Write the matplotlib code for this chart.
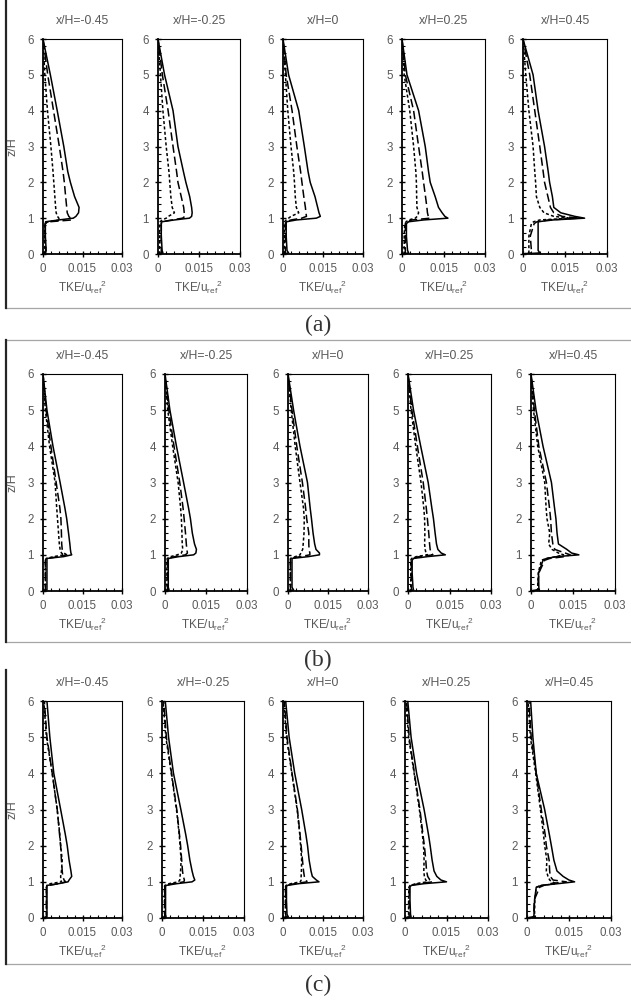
import numpy as np
import matplotlib
matplotlib.use('Agg')
import matplotlib.pyplot as plt
from matplotlib.lines import Line2D
from matplotlib.ticker import MultipleLocator, FixedLocator, FixedFormatter

plt.rcParams['font.family'] = ['Liberation Sans', 'DejaVu Sans']
plt.rcParams['mathtext.default'] = 'regular'

# stations and heights (z/H)
x_pos = ['x/H=-0.45', 'x/H=-0.25', 'x/H=0', 'x/H=0.25', 'x/H=0.45']
z = [0, 0.03, 0.1, 0.5, 0.85, 0.9, 0.95, 1.0, 1.05, 1.15, 1.3, 1.6, 2.0, 2.3, 3.0, 4.0, 5.0, 6.0]

# TKE/uref^2, in units of 1e-3, one row per station
a_solid = [
    [0.3, 1.0, 1.2, 0.9, 0.9, 1.0, 6.0, 11.5, 12.5, 13.5, 13.7, 12.0, 10.4, 9.4, 7.9, 5.4, 2.8, 0.0],
    [0.3, 1.8, 1.5, 1.2, 1.2, 1.4, 6.0, 11.5, 12.3, 12.5, 12.3, 11.6, 10.2, 9.3, 7.3, 5.5, 2.4, 0.0],
    [0.3, 2.1, 1.5, 1.2, 1.2, 1.3, 5.0, 12.5, 14.0, 13.5, 13.0, 12.0, 10.2, 9.4, 8.0, 5.9, 2.1, 0.0],
    [0.3, 2.4, 2.0, 1.6, 1.6, 2.4, 7.8, 16.6, 15.5, 14.5, 13.2, 12.0, 10.2, 9.6, 8.4, 6.0, 1.8, 0.0],
    [0.0, 6.0, 5.4, 5.4, 5.4, 5.4, 10.7, 22.0, 18.5, 13.5, 11.0, 10.5, 9.5, 9.0, 7.7, 5.4, 3.6, 0.0],
]
a_long = [
    [0.3, 0.8, 1.0, 0.8, 0.8, 2.5, 11.0, 10.5, 9.8, 9.2, 9.0, 8.6, 8.1, 7.6, 6.2, 4.0, 1.8, 0.0],
    [0.3, 1.2, 1.2, 1.2, 1.2, 1.5, 5.0, 9.0, 9.8, 9.6, 9.4, 8.5, 7.3, 6.8, 5.5, 3.7, 1.6, 0.0],
    [0.3, 0.9, 0.9, 0.9, 0.9, 1.0, 3.0, 7.0, 8.8, 8.6, 8.4, 7.8, 7.1, 6.6, 5.2, 3.4, 1.2, 0.0],
    [0.3, 1.2, 1.2, 1.2, 1.2, 1.8, 3.6, 10.2, 9.5, 9.2, 9.0, 8.5, 7.8, 7.3, 6.0, 4.2, 1.2, 0.0],
    [0.0, 3.0, 3.0, 2.6, 4.0, 5.0, 9.0, 20.0, 14.0, 11.0, 9.8, 8.9, 7.7, 7.2, 6.0, 4.2, 2.4, 0.0],
]
a_short = [
    [0.3, 0.6, 0.7, 0.6, 0.6, 2.0, 6.5, 6.0, 5.5, 5.0, 4.8, 4.5, 4.1, 3.8, 3.0, 1.7, 0.7, 0.0],
    [0.3, 0.6, 0.6, 0.6, 0.6, 0.8, 1.5, 3.0, 3.8, 6.0, 5.2, 4.7, 4.3, 4.0, 3.0, 1.8, 0.9, 0.0],
    [0.3, 0.5, 0.5, 0.5, 0.5, 0.6, 1.2, 2.1, 3.0, 5.9, 5.0, 4.6, 4.3, 4.0, 3.0, 1.8, 0.9, 0.0],
    [0.3, 0.8, 0.8, 0.8, 1.0, 1.5, 2.4, 4.8, 5.5, 6.0, 5.4, 5.3, 5.2, 5.0, 4.2, 2.8, 0.8, 0.0],
    [0.0, 2.1, 2.1, 2.1, 3.0, 3.8, 6.0, 16.7, 11.0, 7.5, 6.0, 4.8, 4.5, 4.2, 3.6, 2.1, 1.0, 0.0],
]

b_solid = [
    [0.2, 1.5, 1.5, 1.5, 1.5, 1.5, 7.8, 10.9, 10.6, 10.4, 10.2, 9.7, 9.0, 8.3, 6.5, 3.8, 1.5, 0.0],
    [0.2, 1.5, 1.2, 1.2, 1.2, 1.3, 5.0, 10.5, 11.3, 11.5, 10.8, 10.0, 9.3, 8.6, 6.8, 4.2, 1.8, 0.0],
    [0.2, 2.1, 1.5, 1.5, 1.5, 1.5, 7.6, 11.8, 11.8, 10.5, 10.0, 9.4, 8.8, 8.3, 7.3, 4.5, 2.1, 0.0],
    [0.2, 2.0, 1.8, 1.5, 1.5, 2.0, 7.0, 13.5, 12.0, 10.8, 10.3, 9.8, 9.2, 8.6, 7.3, 4.6, 2.0, 0.0],
    [0.0, 2.8, 2.8, 2.7, 4.3, 5.5, 9.1, 17.1, 14.5, 12.8, 9.8, 9.3, 8.9, 8.4, 7.3, 4.3, 1.8, 0.0],
]
b_long = [
    [0.2, 0.9, 0.9, 0.9, 0.9, 1.5, 6.0, 9.0, 8.0, 7.3, 7.1, 7.0, 6.8, 6.4, 5.0, 3.0, 1.2, 0.0],
    [0.2, 1.0, 0.9, 0.9, 0.9, 1.0, 3.5, 7.5, 8.2, 8.0, 7.8, 7.5, 7.0, 6.6, 5.4, 3.3, 1.4, 0.0],
    [0.2, 1.0, 0.9, 0.9, 0.9, 0.9, 4.5, 8.2, 8.2, 7.9, 7.8, 7.8, 7.0, 6.6, 5.4, 3.3, 1.5, 0.0],
    [0.2, 1.3, 1.2, 1.2, 1.2, 1.5, 4.0, 9.0, 8.5, 8.0, 7.8, 7.5, 7.0, 6.6, 5.5, 3.4, 1.4, 0.0],
    [0.0, 2.4, 2.4, 2.8, 4.9, 6.7, 12.0, 14.0, 12.2, 8.5, 7.8, 7.3, 7.0, 6.6, 5.5, 2.8, 1.2, 0.0],
]
b_short = [
    [0.2, 0.9, 0.9, 0.9, 0.9, 1.2, 4.0, 8.0, 7.0, 6.5, 6.2, 5.9, 5.5, 5.2, 4.6, 2.5, 0.9, 0.0],
    [0.2, 0.8, 0.7, 0.7, 0.7, 0.8, 2.0, 4.5, 6.0, 6.5, 6.3, 6.2, 6.0, 5.7, 4.8, 2.8, 1.0, 0.0],
    [0.2, 0.9, 0.9, 0.9, 0.9, 0.9, 2.7, 4.5, 4.8, 5.5, 5.7, 6.0, 6.1, 5.8, 4.5, 2.7, 1.2, 0.0],
    [0.2, 1.0, 1.0, 1.0, 1.0, 1.3, 3.0, 7.0, 6.5, 6.2, 6.0, 6.1, 6.0, 5.7, 4.7, 2.8, 1.1, 0.0],
    [0.0, 2.4, 2.4, 2.6, 3.7, 5.5, 9.0, 11.6, 9.8, 7.5, 6.3, 6.7, 5.7, 5.4, 4.9, 2.4, 0.9, 0.0],
]

c_solid = [
    [0.2, 1.5, 1.5, 1.5, 1.5, 1.5, 6.0, 9.5, 9.9, 10.9, 10.6, 9.9, 9.2, 8.5, 6.7, 4.1, 2.6, 1.5],
    [0.2, 1.5, 1.3, 1.3, 1.3, 1.4, 5.5, 11.0, 12.0, 11.5, 11.0, 10.2, 9.4, 8.7, 6.9, 4.2, 2.4, 1.2],
    [0.2, 2.0, 1.5, 1.3, 1.3, 1.5, 6.0, 13.5, 12.5, 11.0, 10.5, 9.8, 9.2, 8.6, 7.0, 4.4, 2.3, 1.0],
    [0.2, 2.2, 2.0, 1.8, 1.8, 2.2, 7.0, 15.0, 13.0, 11.5, 10.5, 9.8, 9.1, 8.5, 6.9, 4.2, 2.2, 1.0],
    [0.0, 2.5, 2.5, 2.7, 3.3, 5.1, 11.1, 17.0, 15.0, 12.9, 10.7, 9.6, 8.7, 8.0, 6.3, 3.3, 2.1, 1.3],
]
c_long = [
    [0.2, 1.3, 1.3, 1.3, 1.3, 2.2, 6.0, 8.6, 8.0, 7.5, 7.3, 7.0, 6.7, 6.3, 5.4, 3.5, 1.5, 0.5],
    [0.2, 1.0, 1.0, 1.0, 1.0, 1.2, 4.0, 8.0, 8.2, 7.8, 7.5, 7.2, 6.8, 6.4, 5.4, 3.5, 1.6, 0.6],
    [0.2, 1.2, 1.0, 1.0, 1.0, 1.2, 4.5, 9.0, 8.7, 8.0, 7.7, 7.3, 6.8, 6.4, 5.4, 3.4, 1.5, 0.5],
    [0.2, 1.5, 1.5, 1.5, 1.6, 2.0, 5.0, 10.0, 9.0, 8.2, 7.8, 7.5, 7.0, 6.5, 5.4, 3.4, 1.5, 0.6],
    [0.0, 2.4, 2.4, 2.6, 4.5, 6.0, 8.1, 14.0, 9.3, 8.3, 8.1, 7.9, 6.9, 6.5, 5.1, 3.3, 1.5, 0.7],
]
c_short = [
    [0.2, 1.3, 1.3, 1.3, 1.3, 1.5, 2.8, 7.0, 6.8, 6.7, 7.0, 7.3, 6.7, 6.4, 5.4, 3.5, 1.3, 0.3],
    [0.2, 0.9, 0.9, 0.9, 0.9, 1.0, 2.5, 6.0, 6.5, 6.6, 6.8, 7.0, 6.6, 6.3, 5.3, 3.4, 1.4, 0.4],
    [0.2, 1.0, 0.9, 0.9, 0.9, 1.1, 3.0, 6.5, 6.8, 6.8, 6.9, 7.0, 6.6, 6.3, 5.3, 3.3, 1.3, 0.3],
    [0.2, 1.3, 1.3, 1.3, 1.4, 1.8, 4.0, 8.0, 7.5, 7.0, 6.8, 6.9, 6.7, 6.3, 5.2, 3.3, 1.3, 0.4],
    [0.0, 2.7, 2.7, 2.8, 3.3, 5.1, 10.5, 9.0, 8.1, 7.5, 6.9, 7.1, 6.3, 5.9, 4.8, 3.1, 1.2, 0.4],
]

cases = ['(a)', '(b)', '(c)']
solid_all = [a_solid, b_solid, c_solid]
long_all = [a_long, b_long, c_long]
short_all = [a_short, b_short, c_short]

# layout in pixels
W, H = 631, 1001
row_top = [39, 374, 701]
row_h = [215, 217, 217]
row_left = [[43, 158, 283, 402, 523],
            [43, 165, 288, 408, 531],
            [43, 162, 283, 405, 527]]
ax_w = [79, 82, 80, 83, 84]

def box(l, t, w, h):
    return [l / W, 1 - (t + h) / H, w / W, h / H]

gray = '#595959'
fig = plt.figure(figsize=(W / 100, H / 100), dpi=100)

for r in range(3):
    for i in range(5):
        ax = fig.add_axes(box(row_left[r][i], row_top[r], ax_w[i], row_h[r]))
        xs = np.array(solid_all[r][i]) * 1e-3
        xl = np.array(long_all[r][i]) * 1e-3
        xd = np.array(short_all[r][i]) * 1e-3
        ax.plot(xs, z, color='k', lw=1.1, ls='-')
        ax.plot(xl, z, color='k', lw=1.1, ls=(0, (5.5, 2.5)))
        ax.plot(xd, z, color='k', lw=1.1, ls=(0, (2, 1.5)))
        ax.set_xlim(0, 0.03)
        ax.set_ylim(0, 6)
        ax.xaxis.set_major_locator(FixedLocator([0, 0.015, 0.03]))
        ax.xaxis.set_major_formatter(FixedFormatter(['0', '0.015', '0.03']))
        ax.xaxis.set_minor_locator(MultipleLocator(0.003))
        ax.yaxis.set_major_locator(MultipleLocator(1))
        ax.yaxis.set_minor_locator(MultipleLocator(0.2))
        ax.tick_params(which='major', direction='inout', length=5, width=1,
                       labelsize=8.3, labelcolor=gray, pad=4)
        ax.tick_params(which='minor', direction='in', length=2.5, width=0.8)
        for s in ['left', 'bottom']:
            ax.spines[s].set_linewidth(1.3)
        for s in ['right', 'top']:
            ax.spines[s].set_linewidth(0.8)
        ax.set_title(x_pos[i], fontsize=8.8, color=gray, pad=10.5)
        ax.set_xlabel('TKE/u$_{ref}$$^{2}$', fontsize=8.5, color=gray, labelpad=3)
        if i == 0:
            ax.set_ylabel('z/H', fontsize=9, color=gray)
            ax.yaxis.set_label_coords(-0.31, 0.5)

# frames around each case
sep_y = [308, 340, 642, 964]
for y in sep_y:
    fig.add_artist(Line2D([6 / W, 1], [1 - y / H, 1 - y / H], color='#a6a6a6', lw=0.9,
                          transform=fig.transFigure))
for y0, y1 in [(0, 308), (340, 642), (670, 964)]:
    fig.add_artist(Line2D([6 / W, 6 / W], [1 - y0 / H, 1 - y1 / H], color='#262626', lw=1.6,
                          transform=fig.transFigure))

case_y = [325, 660, 985]
for lab, y in zip(cases, case_y):
    fig.text(318 / W, 1 - y / H, lab, ha='center', va='center', fontsize=17,
             family=['Liberation Serif', 'DejaVu Serif'], color='#333333')

fig.savefig('out.png', dpi=100)
